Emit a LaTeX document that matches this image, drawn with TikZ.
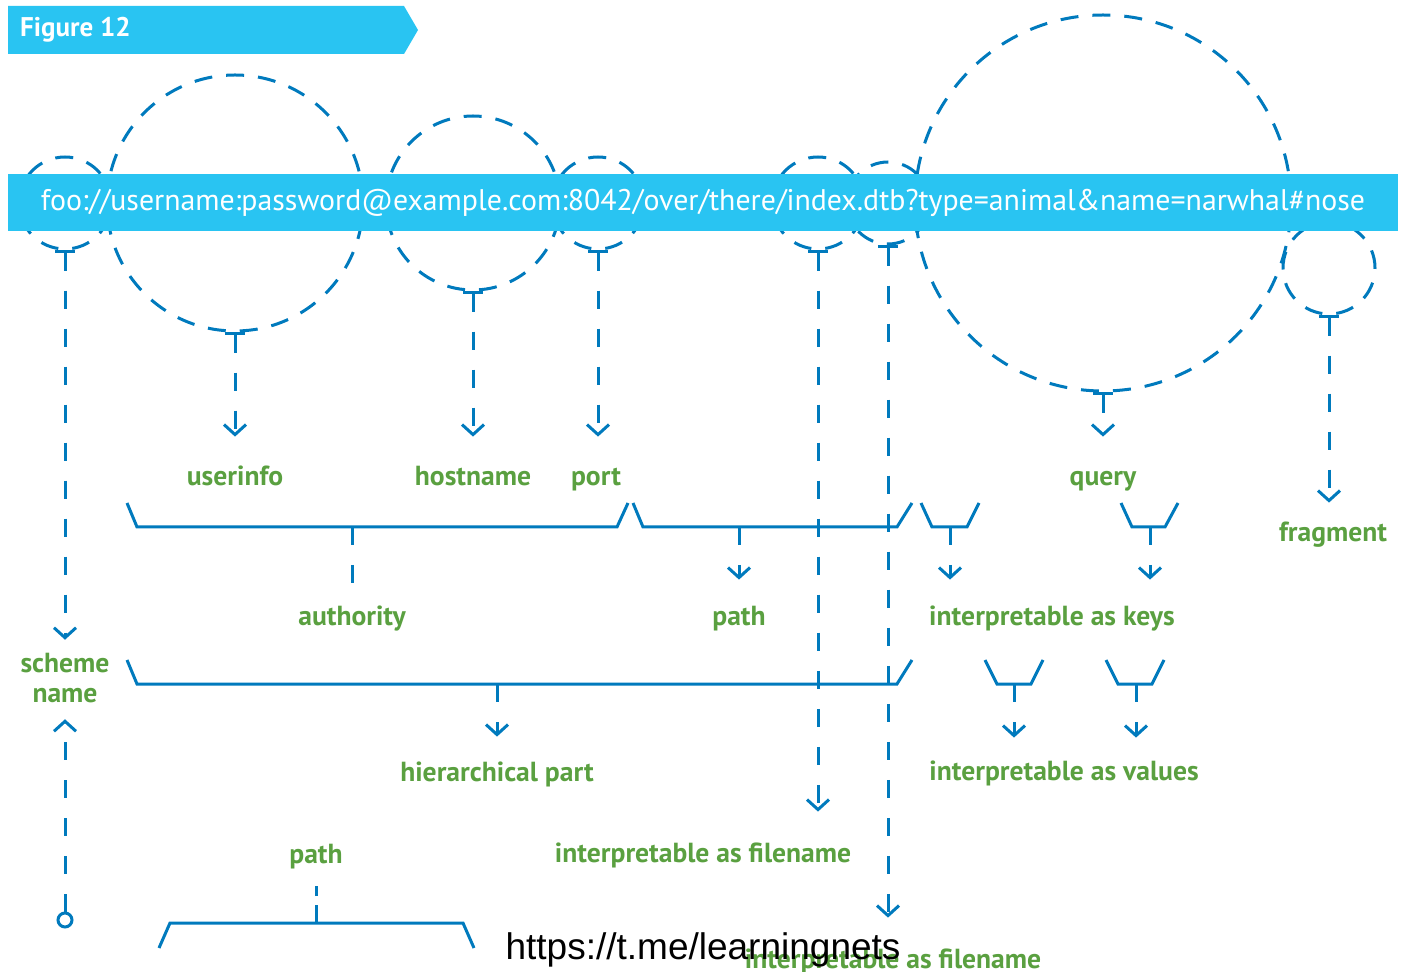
\documentclass[tikz,border=0pt]{standalone}
\usepackage{fontspec}
\setmainfont{PT Sans}
\newfontfamily\wmfont{Liberation Sans}
\usepackage{tikz}
\usetikzlibrary{arrows.meta, positioning}
\definecolor{barcyan}{RGB}{41,196,242}
\definecolor{uriblue}{RGB}{0,122,189}
\definecolor{partgreen}{RGB}{90,160,64}
\tikzstyle{ring} = [circle, draw=uriblue, line width=1.5pt, dash pattern=on 9pt off 7pt, inner sep=0pt]
\tikzstyle{part} = [text=partgreen, font=\fontsize{13.8}{15}\selectfont\bfseries, inner sep=0pt, text height=10pt, text depth=3pt, align=center]
\tikzstyle{bracket} = [draw=uriblue, line width=1.5pt]
\tikzstyle{connector} = [draw=uriblue, line width=1.5pt, dash pattern=on 9pt off 10pt, -{Straight Barb[length=5pt,width=11pt]}]
\tikzset{
  tee/.style={{Bar[width=10pt]}-{Straight Barb[length=5pt,width=11pt]}},
  stem/.style={draw=uriblue, line width=1.5pt, dash pattern=on 9pt off 10pt}
}

\begin{document}
\begin{tikzpicture}[x=0.5pt, y=-0.5pt]
      \useasboundingbox (0,0) rectangle (1408,972);
      % Define nodes using positioning
      \node (scheme_circle) [ring, minimum size=46pt] at (65,203) {};
      \node (userinfo_circle) [ring, minimum size=128pt] at (235,203) {};
      \node (hostname_circle) [ring, minimum size=87pt] at (473,203) {};
      \node (port_circle) [ring, minimum size=46pt] at (598,203) {};
      \node (path_circle) [ring, minimum size=46pt] at (818,203) {};
      \node (file_circle) [ring, minimum size=41pt] at (888,203) {};
      \node (query_circle) [ring, minimum size=188pt] at (1103,203) {};
      \node (fragment_circle) [ring, minimum size=46pt] at (1329,268) {};

      \fill [barcyan] (8,6) -- (404,6) -- (418,30) -- (404,54) -- (8,54) -- cycle;
      \node (title) [anchor=west, text=white, font=\fontsize{13.5}{15}\selectfont\bfseries] at (13,30) {Figure 12};
      \node (uri) [fill=barcyan, minimum width=695pt, minimum height=28.5pt, inner sep=0pt, text=white] at (703,202.5)
        {\resizebox{662pt}{!}{\fontsize{14}{16}\selectfont foo://username:password@example.com:8042/over/there/index.dtb?type=animal\&name=narwhal\#nose}};

      \node (userinfo) [part] at (235,479) {userinfo};
      \node (hostname) [part] at (473,479) {hostname};
      \node (port) [part] at (596,479) {port};
      \node (query) [part] at (1103,479) {query};
      \node (fragment) [part] at (1333,535) {fragment};
      \node (authority) [part] at (352,618) {authority};
      \node (path) [part] at (739,618) {path};
      \node (keys) [part] at (1052,618) {interpretable as keys};
      \node (scheme) [part, text height=, text depth=] at (65,678) {scheme\\name};
      \node (hierarchical) [part] at (497,774) {hierarchical part};
      \node (values) [part] at (1064,773) {interpretable as values};
      \node (filename) [part] at (703,855) {interpretable as filename};
      \node (bottom_path) [part] at (316,856) {path};
      \node (bottom_filename) [part] at (893,961) {interpretable as filename};
      \node (origin) [circle, draw=uriblue, line width=1.5pt, minimum size=7pt, inner sep=0pt, fill=white] at (65,920) {};

      % Brackets
      \draw [bracket] (127,503) -- (137,527) -- (617,527) -- (628,503);
      \draw [bracket] (633,503) -- (643,527) -- (897,527) -- (912,503);
      \draw [bracket] (921,503) -- (932,527) -- (967,527) -- (979,503);
      \draw [bracket] (1121,503) -- (1132,527) -- (1165,527) -- (1178,503);
      \draw [bracket] (127,660) -- (137,684) -- (897,684) -- (912,660);
      \draw [bracket] (985,660) -- (997,684) -- (1031,684) -- (1043,660);
      \draw [bracket] (1106,660) -- (1118,684) -- (1152,684) -- (1164,660);
      \draw [bracket] (159,948) -- (170,923) -- (463,923) -- (474,948);
      \coordinate (authority_mid) at (352,527);
      \coordinate (path_mid) at (739,527);
      \coordinate (key1_mid) at (950,527);
      \coordinate (key2_mid) at (1150,527);
      \coordinate (hier_mid) at (497,684);
      \coordinate (value1_mid) at (1014,684);
      \coordinate (value2_mid) at (1136,684);
      \coordinate (bottom_mid) at (316,923);

      % Draw connectors
      \draw [connector, tee, shorten >=6.5pt] (scheme_circle.south) -- (scheme.north);
      \draw [connector, tee, shorten >=14.5pt] (userinfo_circle.south) -- (userinfo.north);
      \draw [connector, tee, shorten >=14.5pt] (hostname_circle.south) -- (hostname.north);
      \draw [connector, tee, shorten >=14.5pt] (port_circle.south) -- (port.north -| port_circle.south);
      \draw [connector, tee, shorten >=14.5pt] (query_circle.south) -- (query.north);
      \draw [connector, tee, shorten >=9.5pt] (fragment_circle.south) -- (fragment.north -| fragment_circle.south);
      \draw [connector, tee, shorten >=15pt] (path_circle.south) -- (filename.north -| path_circle.south);
      \draw [connector, tee, shorten >=15pt] (file_circle.south) -- (bottom_filename.north -| file_circle.south);
      \draw [connector, shorten >=8pt] (origin.north) -- (scheme.south);
      \draw [stem, shorten >=11pt] (authority_mid) -- (authority.north);
      \draw [connector, shorten >=12.5pt] (path_mid) -- (path.north);
      \draw [connector, shorten >=12.5pt] (key1_mid) -- (keys.north -| key1_mid);
      \draw [connector, shorten >=12.5pt] (key2_mid) -- (keys.north -| key2_mid);
      \draw [connector, shorten >=12pt] (hier_mid) -- (hierarchical.north);
      \draw [connector, shorten >=11pt] (value1_mid) -- (values.north -| value1_mid);
      \draw [connector, shorten >=11pt] (value2_mid) -- (values.north -| value2_mid);
      \draw [stem, dash pattern=on 9pt off 4.5pt, shorten >=8.5pt] (bottom_mid) -- (bottom_path.south);

      \node (watermark) [font=\wmfont\fontsize{18.5}{21}\selectfont, text=black, inner sep=0pt] at (703,950) {https://t.me/learningnets};
\end{tikzpicture}
\end{document}
